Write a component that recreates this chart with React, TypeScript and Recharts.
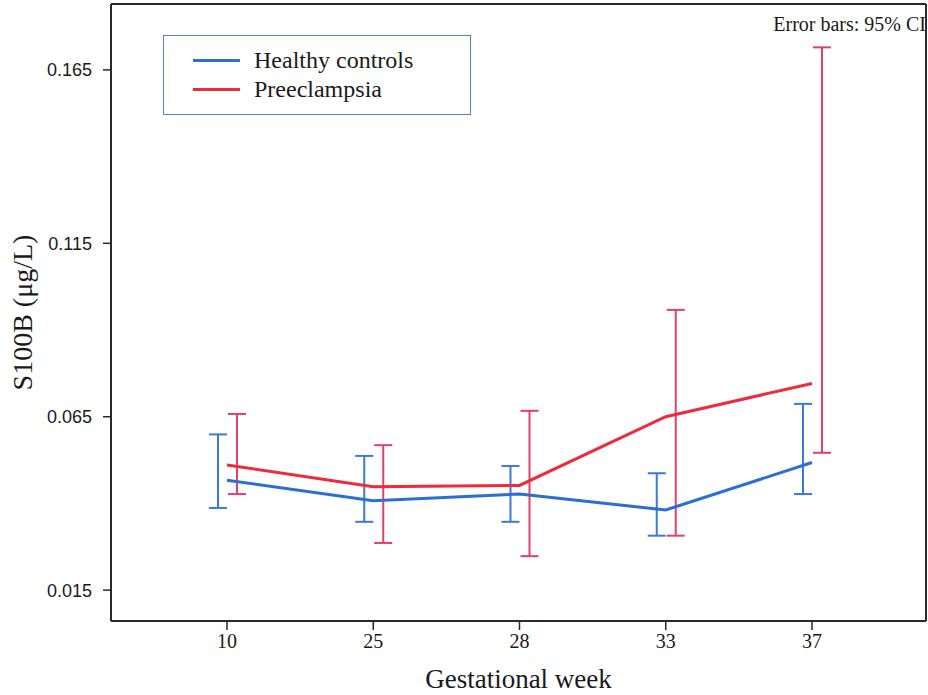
import React from 'react';
import {
  LineChart,
  Line,
  XAxis,
  YAxis,
  ErrorBar,
  Legend,
} from 'recharts';

// gestational weeks (categories)
const weeks = ['10', '25', '28', '33', '37'];

// S100B means and 95% CI bounds
const healthyMean = [0.0467, 0.0408, 0.0427, 0.0381, 0.0518];
const healthyLow = [0.0387, 0.0347, 0.0347, 0.0307, 0.0427];
const healthyHigh = [0.0599, 0.0537, 0.0508, 0.0487, 0.0687];

const preMean = [0.0511, 0.0448, 0.0452, 0.065, 0.0746];
const preLow = [0.0427, 0.0286, 0.0248, 0.0307, 0.0546];
const preHigh = [0.0658, 0.0568, 0.0667, 0.0958, 0.1715];

const yTicks = [0.015, 0.065, 0.115, 0.165];
const yDomain = [0.0061, 0.184];

const BLUE = '#2b6fd2';
const RED = '#ee2a3c';
const BLUE_ERR = '#3a7ad6';
const RED_ERR = '#e0406c';
const FRAME = '#2a2a2a';
const SERIF = "'Liberation Serif', 'Times New Roman', serif";
const SANS = "'Liberation Sans', Arial, sans-serif";

const data = weeks.map((week, i) => ({
  week,
  healthy: healthyMean[i],
  healthyErr: [healthyMean[i] - healthyLow[i], healthyHigh[i] - healthyMean[i]],
  pre: preMean[i],
  preErr: [preMean[i] - preLow[i], preHigh[i] - preMean[i]],
}));

const renderLegend = (props: any) => {
  const items = (props.payload || []).filter((p: any) => p.type !== 'none');
  return (
    <div
      style={{
        boxSizing: 'border-box',
        width: 308,
        height: 80,
        border: '1.5px solid #4a86c5',
        background: '#fff',
        padding: '10px 0 0 29px',
        fontFamily: SERIF,
        fontSize: 24,
        color: '#1a1a1a',
      }}
    >
      {items.map((entry: any) => (
        <div
          key={entry.value}
          style={{ display: 'flex', alignItems: 'center', height: 29 }}
        >
          <span
            style={{
              display: 'inline-block',
              width: 47,
              height: 3,
              background: entry.color,
              marginRight: 14,
            }}
          />
          {entry.value}
        </div>
      ))}
    </div>
  );
};

const App: React.FC = () => {
  return (
    <div style={{ position: 'absolute', left: 0, top: 0, width: 928, height: 695, background: '#fff' }}>
      <LineChart
        width={928}
        height={695}
        data={data}
        margin={{ top: 3, right: 1, bottom: 0, left: 0 }}
      >
        <XAxis
          dataKey="week"
          xAxisId="main"
          height={74}
          padding={{ left: 116, right: 114 }}
          axisLine={{ stroke: FRAME, strokeWidth: 2 }}
          tickLine={{ stroke: FRAME, strokeWidth: 1.5 }}
          tickSize={9}
          tickMargin={4}
          tick={{ fontFamily: SERIF, fontSize: 20, fill: '#1a1a1a' }}
          label={{
            value: 'Gestational week',
            position: 'insideBottom',
            offset: 7,
            style: { fontFamily: SERIF, fontSize: 27, fill: '#1a1a1a' },
          }}
        />
        {/* shifted copies of the category axis (top side) so the CI bars sit beside the points;
            the red one also draws the top edge of the frame */}
        <XAxis
          dataKey="week"
          xAxisId="errBlue"
          orientation="top"
          height={0}
          tick={false}
          tickLine={false}
          axisLine={false}
          padding={{ left: 107, right: 123 }}
        />
        <XAxis
          dataKey="week"
          xAxisId="errRed"
          orientation="top"
          height={1}
          tick={false}
          tickLine={false}
          axisLine={{ stroke: FRAME, strokeWidth: 2 }}
          padding={{ left: 126, right: 104 }}
        />
        <YAxis
          yAxisId="left"
          width={111}
          domain={yDomain}
          allowDataOverflow
          ticks={yTicks}
          tickFormatter={(v: number) => v.toFixed(3)}
          axisLine={{ stroke: FRAME, strokeWidth: 2 }}
          tickLine={{ stroke: FRAME, strokeWidth: 1.5 }}
          tickSize={8}
          tickMargin={11}
          tick={{ fontFamily: SANS, fontSize: 18, fill: '#1a1a1a' }}
          label={{
            value: 'S100B (μg/L)',
            angle: -90,
            position: 'insideLeft',
            offset: 22,
            style: { fontFamily: SERIF, fontSize: 28, fill: '#1a1a1a', textAnchor: 'middle' },
          }}
        />
        <YAxis
          yAxisId="right"
          orientation="right"
          width={1}
          domain={yDomain}
          allowDataOverflow
          tick={false}
          tickLine={false}
          axisLine={{ stroke: FRAME, strokeWidth: 2 }}
        />
        <Legend
          verticalAlign="middle"
          align="center"
          content={renderLegend}
          wrapperStyle={{ position: 'absolute', top: 35, left: 163, width: 308, height: 80 }}
        />
        <Line
          xAxisId="errBlue"
          yAxisId="right"
          dataKey="healthy"
          stroke="none"
          dot={false}
          activeDot={false}
          legendType="none"
          isAnimationActive={false}
        >
          <ErrorBar dataKey="healthyErr" width={9} stroke={BLUE_ERR} strokeWidth={2} direction="y" isAnimationActive={false} />
        </Line>
        <Line
          xAxisId="errRed"
          yAxisId="left"
          dataKey="pre"
          stroke="none"
          dot={false}
          activeDot={false}
          legendType="none"
          isAnimationActive={false}
        >
          <ErrorBar dataKey="preErr" width={9} stroke={RED_ERR} strokeWidth={2} direction="y" isAnimationActive={false} />
        </Line>
        <Line
          xAxisId="main"
          yAxisId="left"
          type="linear"
          dataKey="healthy"
          name="Healthy controls"
          stroke={BLUE}
          strokeWidth={3}
          dot={false}
          activeDot={false}
          isAnimationActive={false}
        />
        <Line
          xAxisId="main"
          yAxisId="left"
          type="linear"
          dataKey="pre"
          name="Preeclampsia"
          stroke={RED}
          strokeWidth={3}
          dot={false}
          activeDot={false}
          isAnimationActive={false}
        />
      </LineChart>
      <div
        style={{
          position: 'absolute',
          top: 13,
          right: 2,
          fontFamily: SERIF,
          fontSize: 20,
          color: '#1a1a1a',
          whiteSpace: 'nowrap',
        }}
      >
        Error bars: 95% CI
      </div>
    </div>
  );
};

export default App;
